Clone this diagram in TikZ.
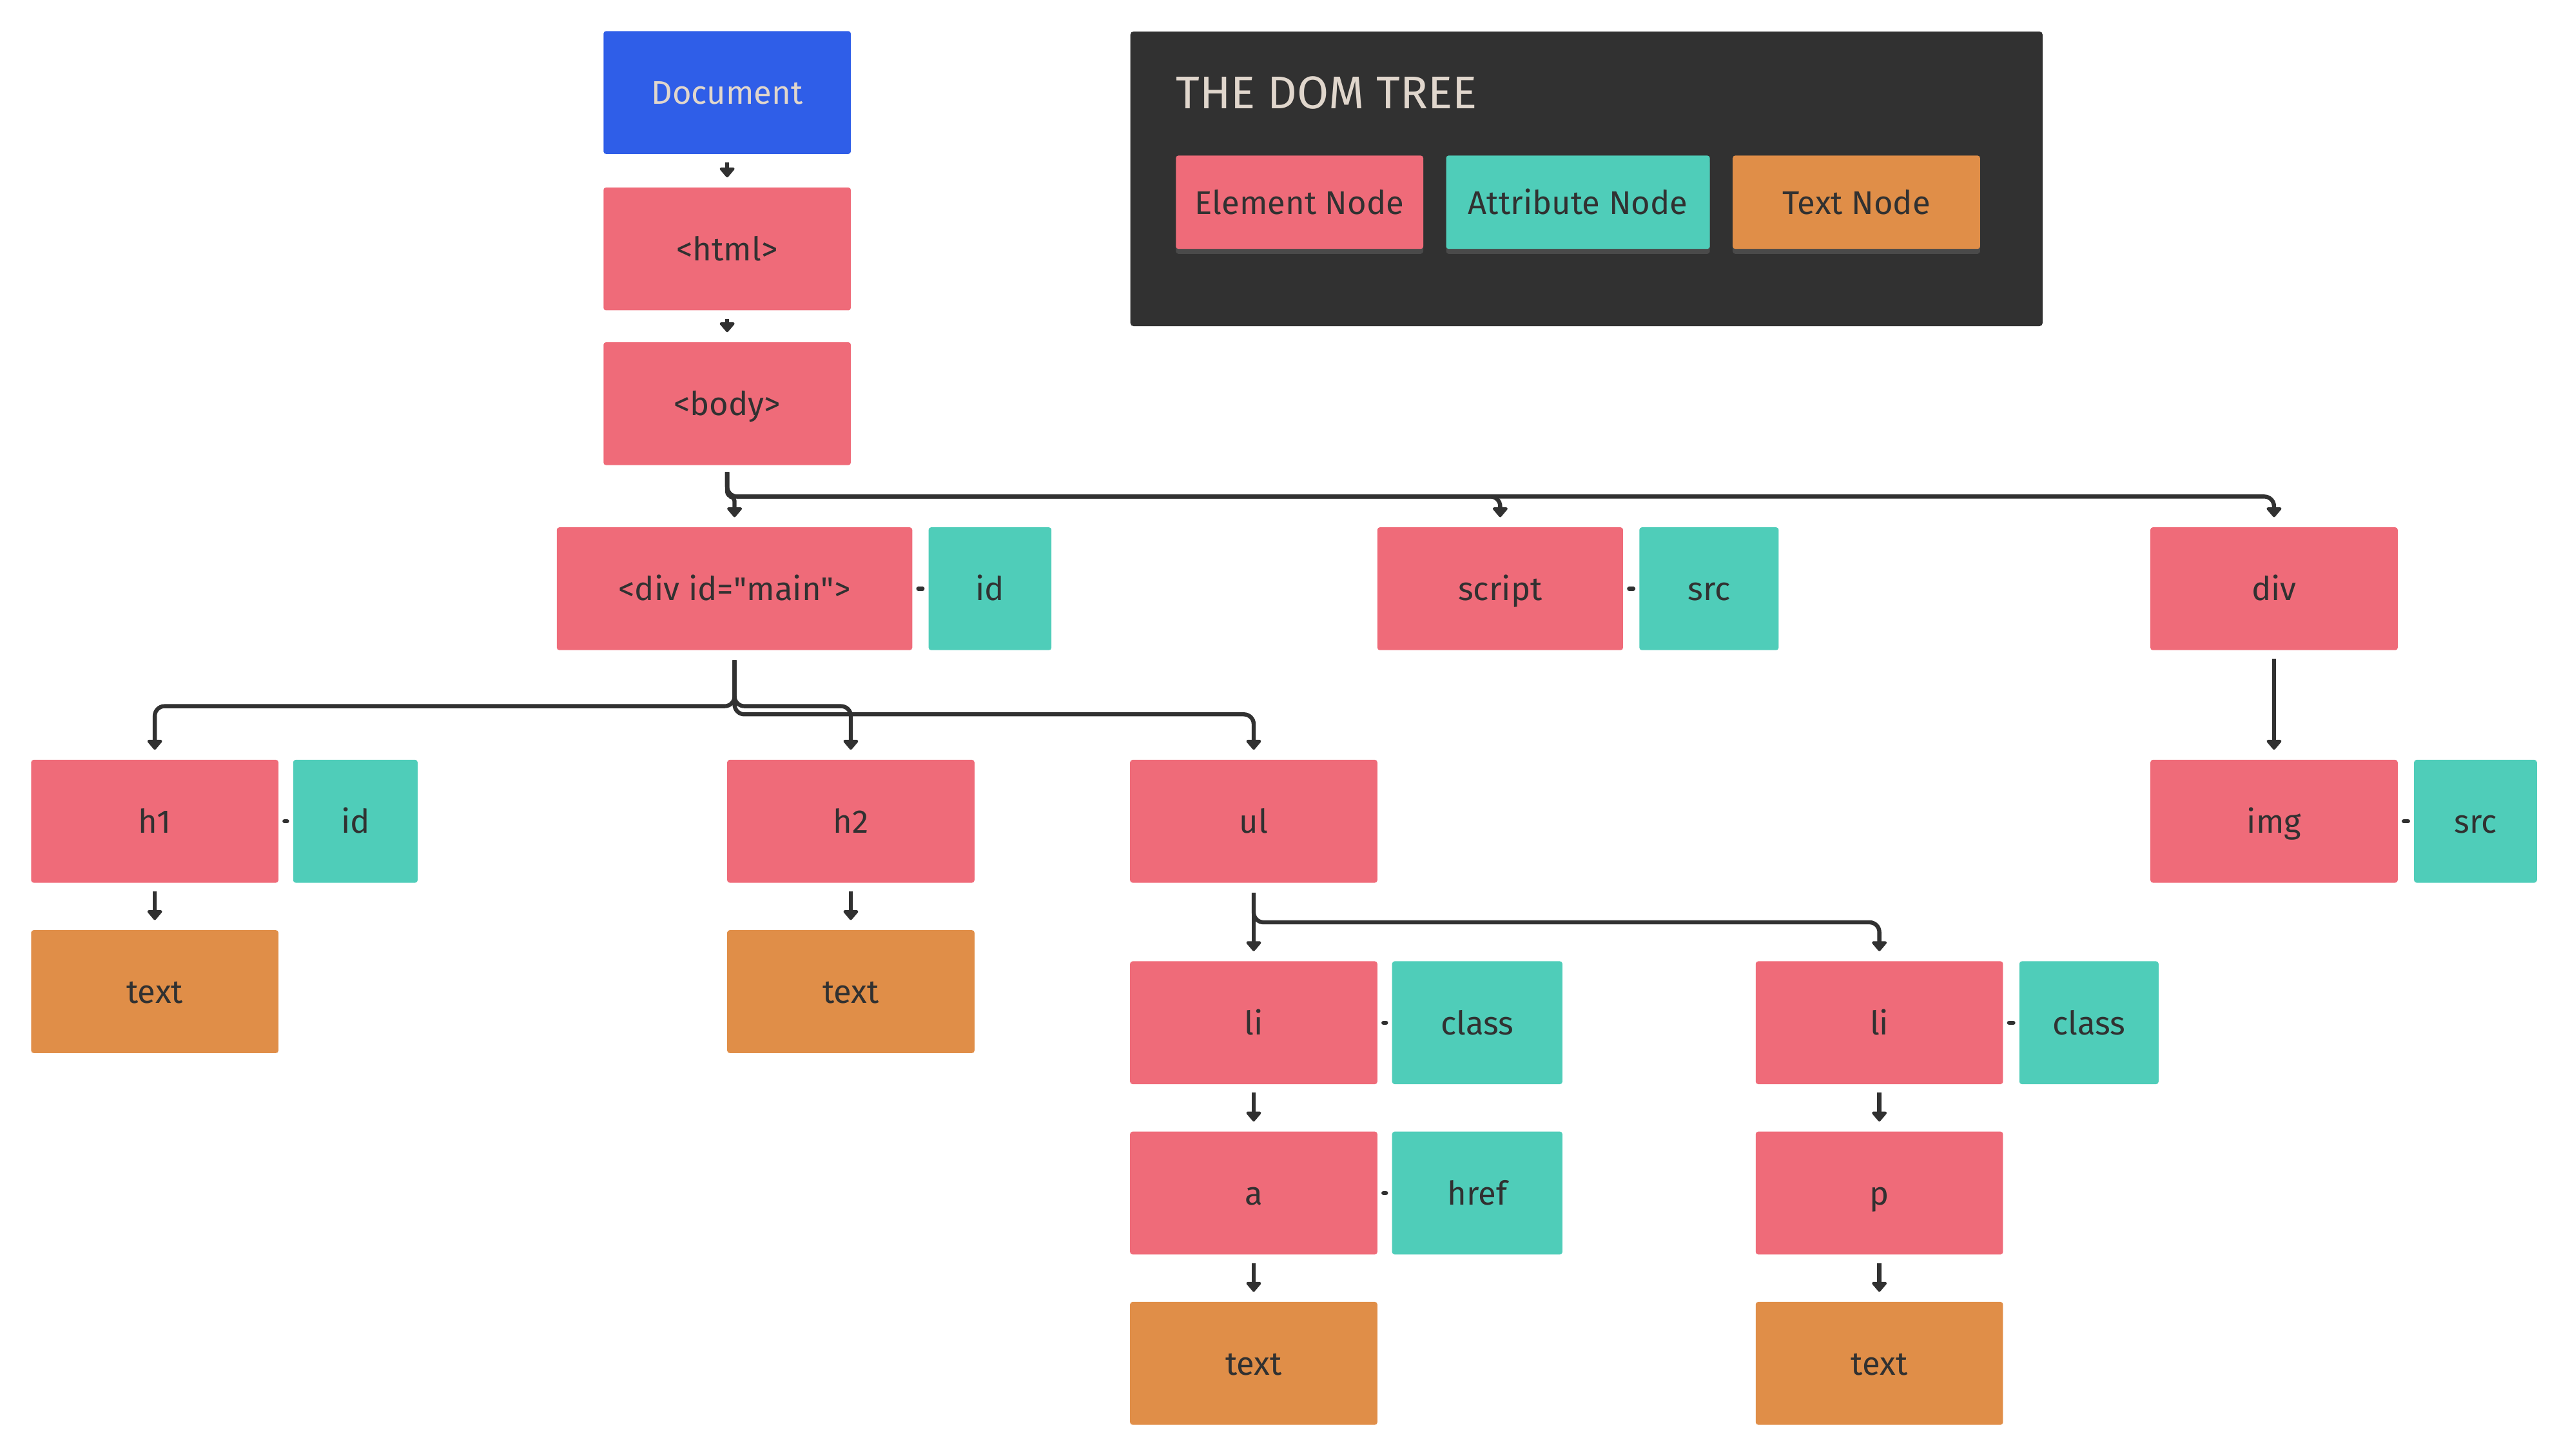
\documentclass[tikz,border=0pt]{standalone}
\usepackage{fontspec}
\setmainfont{Fira Sans}
\usetikzlibrary{arrows.meta,calc,shadows}
\definecolor{docblue}{HTML}{2F5EE8}
\definecolor{elpink}{HTML}{EF6B79}
\definecolor{attrteal}{HTML}{4FCDB9}
\definecolor{txtorange}{HTML}{E08E48}
\definecolor{darkc}{HTML}{313131}
\definecolor{beige}{HTML}{E0D6CC}
\newcommand{\straightquote}{\XeTeXglyph\XeTeXcharglyph"22\relax}
\tikzset{
  box/.style={rectangle, rounded corners=1.5pt, minimum height=75pt, inner sep=0pt,
    text height=14.5pt, text depth=0pt,
    font=\fontsize{20}{24}\selectfont, text=darkc},
  elem/.style={box, fill=elpink, minimum width=151pt},
  attr/.style={box, fill=attrteal},
  textn/.style={box, fill=txtorange, minimum width=151pt},
  docn/.style={box, fill=docblue, minimum width=151pt, text=beige},
  legitem/.style={rectangle, rounded corners=1.5pt, minimum height=57pt, inner sep=0pt,
    text height=14.5pt, text depth=0pt,
    font=\fontsize{20}{24}\selectfont, text=darkc,
    drop shadow={shadow xshift=0pt, shadow yshift=-3pt, fill=white, opacity=0.12}},
  conn/.style={draw=darkc, line width=2.5pt, -{Triangle[length=6.5pt,width=10.5pt,round]}},
  tree/.style={conn, rounded corners=6pt},
  attrlink/.style={draw=darkc, line width=2.5pt, line cap=round, shorten <=3.5pt, shorten >=3.5pt},
}
\begin{document}
\begin{tikzpicture}[x=1pt,y=-1pt]
\useasboundingbox (0,0) rectangle (1568,889);
% legend
\node[rectangle, fill=darkc, rounded corners=2pt, minimum width=557pt, minimum height=180pt, inner sep=0pt, anchor=north west] (legend) at (690,19) {};
\node[anchor=west, text=beige, font=\fontsize{28}{32}\selectfont, inner sep=0pt] (title) at (718,56.5) {THE DOM TREE};
\node[legitem, fill=elpink, minimum width=151pt] (legel) at (793.5,123.5) {Element Node};
\node[legitem, fill=attrteal, minimum width=161pt] (legat) at (963.5,123.5) {Attribute Node};
\node[legitem, fill=txtorange, minimum width=151pt] (legtx) at (1133.5,123.5) {Text Node};
% nodes
\node[docn] (doc) at (444,56.5) {Document};
\node[elem] (html) at (444,152) {<html>};
\node[elem] (body) at (444,246.5) {<body>};
\node[elem, minimum width=217pt] (divmain) at (448.5,359.5) {<div id=\straightquote main\straightquote>};
\node[attr, minimum width=75pt] (id1) at (604.5,359.5) {id};
\node[elem, minimum width=150pt] (script) at (916,359.5) {script};
\node[attr, minimum width=85pt] (src1) at (1043.5,359.5) {src};
\node[elem] (div) at (1388.5,359.5) {div};
\node[elem] (h1) at (94.5,501.5) {h1};
\node[attr, minimum width=76pt] (id2) at (217,501.5) {id};
\node[elem] (h2) at (519.5,501.5) {h2};
\node[elem] (ul) at (765.5,501.5) {ul};
\node[elem] (img) at (1388.5,501.5) {img};
\node[attr, minimum width=75pt] (src2) at (1511.5,501.5) {src};
\node[textn] (t1) at (94.5,605.5) {text};
\node[textn] (t2) at (519.5,605.5) {text};
\node[elem] (li1) at (765.5,624.5) {li};
\node[attr, minimum width=104pt] (cls1) at (902,624.5) {class};
\node[elem] (li2) at (1147.5,624.5) {li};
\node[attr, minimum width=85pt] (cls2) at (1275.5,624.5) {class};
\node[elem] (a) at (765.5,728.5) {a};
\node[attr, minimum width=104pt] (href) at (902,728.5) {href};
\node[elem] (p) at (1147.5,728.5) {p};
\node[textn] (t3) at (765.5,832.5) {text};
\node[textn] (t4) at (1147.5,832.5) {text};
% straight arrows
\foreach \s/\t in {doc/html, html/body, h1/t1, h2/t2, li1/a, li2/p, a/t3, p/t4, div/img}
  \draw[conn] ($(\s.south)+(0,5)$) -- ($(\t.north)+(0,-6)$);
% body branches
\coordinate (bs) at ($(body.south)+(0,4)$);
\draw[conn, rounded corners=3pt] (bs) -- ++(0,15) -| ($(divmain.north)+(0,-6)$);
\draw[tree] (bs) -- ++(0,15) -| ($(script.north)+(0,-6)$);
\draw[tree] (bs) -- ++(0,15) -| ($(div.north)+(0,-6)$);
% div main branches
\coordinate (ds) at ($(divmain.south)+(0,6)$);
\draw[tree] (ds) -- ++(0,28) -| ($(h1.north)+(0,-6)$);
\draw[tree] (ds) -- ++(0,28) -| ($(h2.north)+(0,-6)$);
\draw[tree] (ds) -- ++(0,33) -| ($(ul.north)+(0,-6)$);
% ul branches
\coordinate (us) at ($(ul.south)+(0,6)$);
\draw[conn] (us) -- ($(li1.north)+(0,-6)$);
\draw[tree] (us) -- ++(0,18) -| ($(li2.north)+(0,-6)$);
% attribute links
\foreach \e/\at in {divmain/id1, script/src1, img/src2, h1/id2, li1/cls1, li2/cls2, a/href}
  \draw[attrlink] (\e.east) -- (\at.west);
\end{tikzpicture}
\end{document}
